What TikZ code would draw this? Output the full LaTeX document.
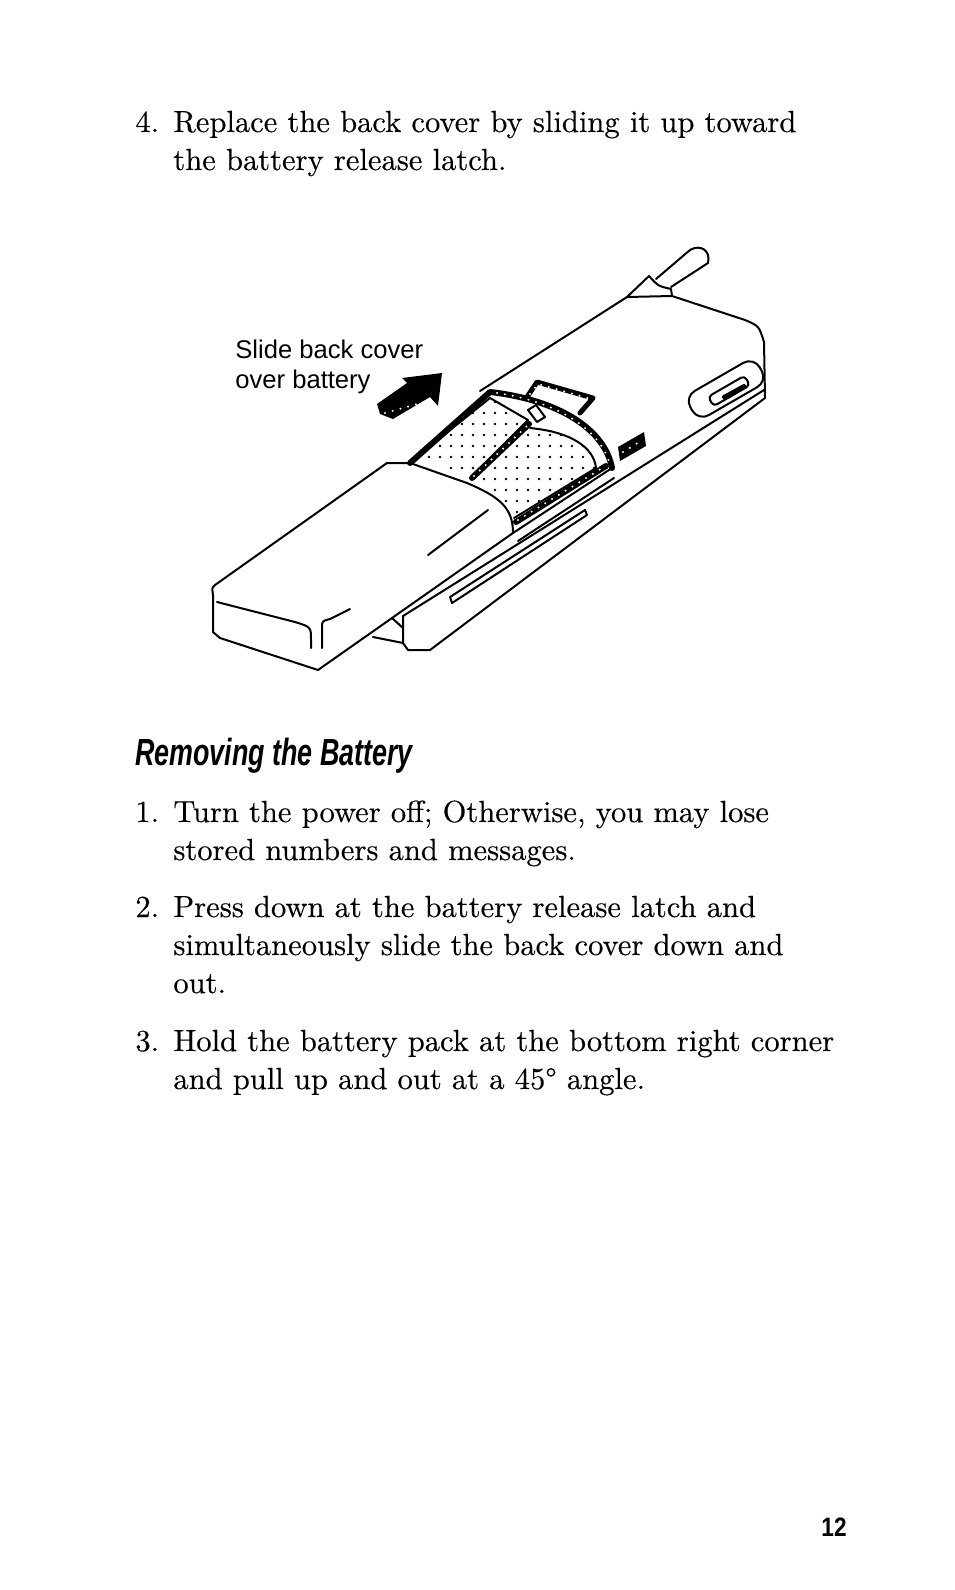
\documentclass[tikz,border=0pt]{standalone}
\usepackage{fontspec}
\usepackage{tikz}
\usetikzlibrary{patterns}
\newfontfamily\bodyfont[FakeBold=0.3]{lmroman10-regular.otf}
\newfontfamily\headfont[FakeStretch=0.71]{Liberation Sans}
\newfontfamily\pagefont[FakeStretch=0.85]{Liberation Sans}
\newfontfamily\labelfont{Liberation Sans}
\pgfdeclarepatternformonly{celldots}{\pgfqpoint{-1pt}{-1pt}}{\pgfqpoint{1pt}{1pt}}{\pgfqpoint{5.5pt}{5.5pt}}{\pgfpathcircle{\pgfqpoint{0pt}{0pt}}{0.7pt}\pgfusepath{fill}}
\tikzset{
  edge/.style={line width=1pt},
  band/.style={line width=3pt},
  bandholes/.style={white, line width=1.1pt, dash pattern=on 0pt off 4pt},
  bodytext/.style={anchor=base west, inner sep=0pt, font=\bodyfont\fontsize{15.28}{19}\selectfont},
  labeltext/.style={anchor=base west, inner sep=0pt, font=\labelfont\fontsize{12.8}{14}\selectfont}
}

\begin{document}
\begin{tikzpicture}[x=0.5pt,y=-0.5pt,line join=round,line cap=round]
  \useasboundingbox (0,0) rectangle (954,1590);
  \fill[white] (0,0) rectangle (954,1590);

  \node[bodytext] (n4) at (135,132) {4.};
  \node[bodytext] (t4a) at (173,132) {Replace the back cover by sliding it up toward};
  \node[bodytext] (t4b) at (173,170) {the battery release latch.};

  \fill[pattern=celldots] (414,459) -- (490,398) -- (528,420) -- (472,476) .. controls (450,468) .. (412,463) -- cycle;
  \fill[pattern=celldots] (474,480) -- (530,428) .. controls (572,432) and (594,448) .. (596,468) -- (514,518) .. controls (508,503) and (495,493) .. (474,480) -- cycle;

  \draw[edge] (627,297) -- (480,391);
  \draw[edge] (627,297) -- (649,276);
  \draw[edge] (649,276) .. controls (658,286) .. (671,289) -- (672,296);
  \draw[edge] (656,279) -- (690,250) .. controls (700,244) and (711,250) .. (708,263) -- (671,287);
  \draw[edge] (627,297) -- (672,296) -- (745,320) .. controls (759,326) .. (764,342) -- (765,398);
  \draw[edge] (765,398) -- (430,650) -- (408,650) -- (403,643) -- (403,616) -- (764,390);
  \draw[edge] (373,637) -- (403,643);
  \draw[edge] (392,618) -- (403,628);
  \draw[edge] (450,597) -- (585,510) -- (587,515) -- (452,603) -- cycle;
  \draw[edge] (513,533) -- (612,468);
  \draw[edge] (518,541) -- (614,478);

  \draw[edge] (387,463) -- (215,585) .. controls (212,588) .. (213,595) -- (213,632) -- (220,638) -- (318,670) -- (513,533);
  \draw[edge] (387,463) -- (410,463) -- (467,483) .. controls (500,497) and (513,508) .. (513,533);
  \draw[edge] (217,602) -- (295,622) .. controls (311,627) .. (311,640) -- (311,648);
  \draw[edge] (322,648) -- (322,628) .. controls (322,621) .. (330,619) -- (350,609);
  \draw[edge] (428,555) -- (488,510);

  \draw[edge] (414,459) -- (490,398) -- (528,420) -- (472,476);
  \draw[edge] (530,428) .. controls (572,432) and (594,448) .. (596,468) -- (514,518);
  \draw[band] (410,463) -- (490,392) .. controls (560,400) and (605,430) .. (612,468);
  \draw[bandholes] (497,393) .. controls (560,402) and (603,432) .. (610,466);
  \draw[band] (516,522) -- (606,466);
  \draw[bandholes] (518,520) -- (604,467);
  \draw[band] (472,478) -- (529,424);
  \draw[bandholes] (474,476) -- (527,426);
  \draw[line width=2.5pt] (527,397) -- (537,382) -- (593,398) -- (580,413);
  \draw[bandholes] (530,394) -- (538,384) -- (591,399);
  \draw[edge, fill=white] (528,410) -- (536,405) -- (545,417) -- (537,422) -- cycle;

  \fill (618,447) -- (644,432) -- (646,446) -- (620,461) -- cycle;
  \draw[bandholes] (623,452) -- (641,441);

  \node[draw, line width=1pt, fill=white, rounded corners=6pt, minimum width=40pt, minimum height=14pt, inner sep=0pt, rotate=30] (latch) at (726,389) {};
  \node[draw, line width=1pt, rounded corners=2pt, minimum width=21pt, minimum height=5.5pt, inner sep=0pt, rotate=30] (slot) at (729,391) {};
  \draw[line width=2pt] (724,397) -- (744,386);

  \fill (377,404) -- (407,383) -- (402,378) -- (442,373) -- (438,406) -- (430,397) -- (393,419) -- (380,414) -- cycle;
  \draw[bandholes] (385,413) -- (428,401);

  \node[labeltext] (slide) at (235,358) {Slide back cover};
  \node[labeltext] (over) at (235,388) {over battery};

  \node[anchor=base west, inner sep=0pt, font=\headfont\bfseries\itshape\fontsize{18.9}{20}\selectfont] (head) at (135,765) {Removing the Battery};

  \node[bodytext] (n1) at (135,822) {1.};
  \node[bodytext] (t1a) at (173,822) {Turn the power off; Otherwise, you may lose};
  \node[bodytext] (t1b) at (173,860) {stored numbers and messages.};
  \node[bodytext] (n2) at (135,917) {2.};
  \node[bodytext] (t2a) at (173,917) {Press down at the battery release latch and};
  \node[bodytext] (t2b) at (173,955) {simultaneously slide the back cover down and};
  \node[bodytext] (t2c) at (173,993) {out.};
  \node[bodytext] (n3) at (135,1051) {3.};
  \node[bodytext] (t3a) at (173,1051) {Hold the battery pack at the bottom right corner};
  \node[bodytext] (t3b) at (173,1089) {and pull up and out at a 45° angle.};

  \node[anchor=base east, inner sep=0pt, font=\pagefont\bfseries\fontsize{13.3}{14}\selectfont] (pg) at (847,1536) {12};
\end{tikzpicture}
\end{document}
